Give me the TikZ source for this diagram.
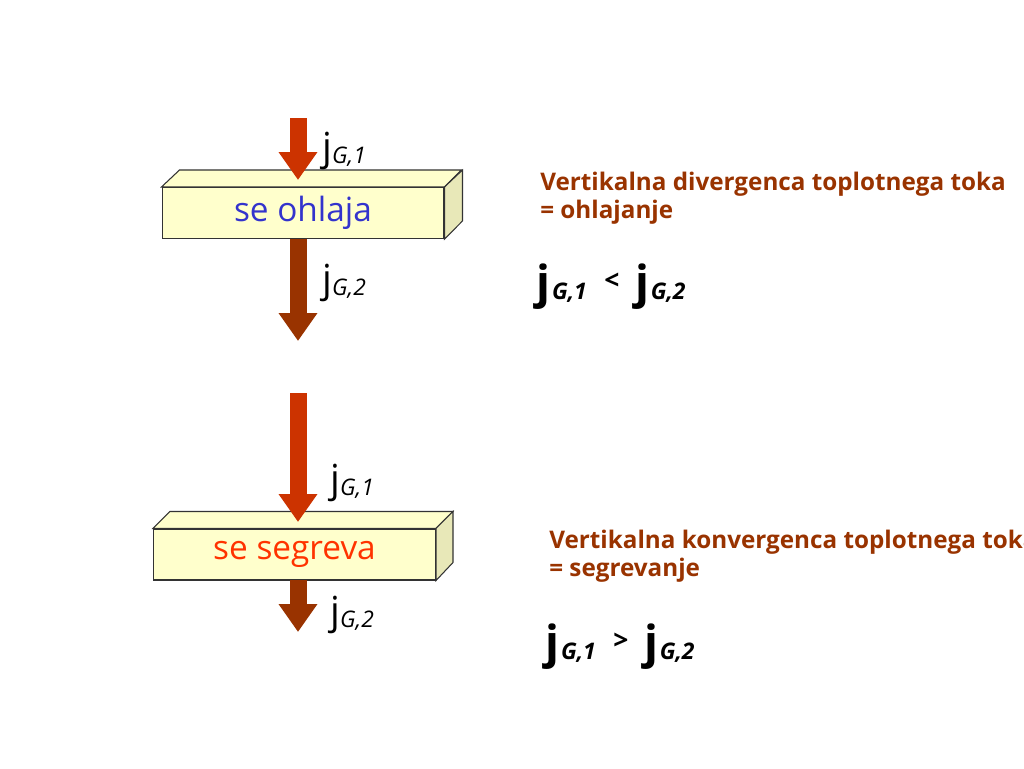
\documentclass[tikz,border=0pt]{standalone}
\usepackage{fontspec}
\setmainfont{Open Sans}
\usetikzlibrary{arrows.meta}
\definecolor{slabfront}{RGB}{255,255,204}
\definecolor{slabside}{RGB}{232,232,184}
\definecolor{fluxin}{RGB}{204,51,0}
\definecolor{fluxout}{RGB}{153,51,0}
\definecolor{notebrown}{RGB}{153,51,0}
\definecolor{coolblue}{RGB}{51,51,204}
\definecolor{warmred}{RGB}{255,51,0}
\newcommand{\fluxlabel}[1]{{\fontsize{22}{22}\selectfont j}\raisebox{-2pt}{\fontsize{13}{13}\selectfont\itshape G,#1}}
\newcommand{\relflux}[1]{{\fontsize{26}{26}\selectfont j}\hspace{1pt}\raisebox{-1pt}{\fontsize{13}{13}\selectfont\itshape G,#1}}
\tikzset{
  slab/.style={draw=black!80, fill=slabfront, line width=0.6pt, minimum width=5.64cm, minimum height=1.02cm, inner sep=0pt, font=\fontsize{19}{19}\selectfont},
  slabface/.style={draw=black!80, line width=0.6pt},
  flux/.style={line width=0.34cm, -{Triangle[width=0.74cm,length=0.56cm]}},
  lbl/.style={anchor=base west, inner sep=0pt},
  note/.style={anchor=north west, inner sep=0pt, align=left, text=notebrown, font=\fontsize{13.8}{15.9}\selectfont\bfseries},
}

\begin{document}
\begin{tikzpicture}[x=0.02cm,y=-0.02cm]
  \useasboundingbox (0,0) rectangle (1024,768);
  \clip (0,0) rectangle (1024,768);

  % cooling slab
  \node[slab, text=coolblue] (cool) at (303,213) {\raisebox{-3pt}{se ohlaja}};
  \filldraw[slabface, fill=slabfront] (cool.north west) -- ++(18,-17) -- ++(282,0) -- (cool.north east) -- cycle;
  \filldraw[slabface, fill=slabside] (cool.north east) -- ++(18,-17) -- ++(0,51) -- (cool.south east) -- cycle;
  \coordinate (cool-in) at (298,118);
  \coordinate (cool-tip) at (298,180);
  \coordinate (cool-out) at (298,239);
  \coordinate (cool-end) at (298,341);
  \draw[flux, fluxin] (cool-in) -- (cool-tip);
  \draw[flux, fluxout] (cool-out) -- (cool-end);
  \node[lbl] (cool-j1) at (322,160) {\fluxlabel{1}};
  \node[lbl] (cool-j2) at (322,292) {\fluxlabel{2}};
  \node[note] (cool-note) at (540,172) {Vertikalna divergenca toplotnega toka\\= ohlajanje};
  \node[lbl] (cool-rel) at (536,298) {\bfseries\relflux{1}\hspace{10pt}\raisebox{5pt}{\fontsize{15}{15}\selectfont <}\hspace{9pt}\relflux{2}};

  % warming slab
  \node[slab, text=warmred] (warm) at (294.5,554.5) {\raisebox{-3pt}{se segreva}};
  \filldraw[slabface, fill=slabfront] (warm.north west) -- ++(17,-17) -- ++(283,0) -- (warm.north east) -- cycle;
  \filldraw[slabface, fill=slabside] (warm.north east) -- ++(17,-17) -- ++(0,51) -- (warm.south east) -- cycle;
  \coordinate (warm-in) at (298,393);
  \coordinate (warm-tip) at (298,522);
  \coordinate (warm-out) at (298,580);
  \coordinate (warm-end) at (298,632);
  \draw[flux, fluxin] (warm-in) -- (warm-tip);
  \draw[flux, fluxout] (warm-out) -- (warm-end);
  \node[lbl] (warm-j1) at (330,492) {\fluxlabel{1}};
  \node[lbl] (warm-j2) at (330,624) {\fluxlabel{2}};
  \node[note] (warm-note) at (549,530) {Vertikalna konvergenca toplotnega toka\\= segrevanje};
  \node[lbl] (warm-rel) at (545,658) {\bfseries\relflux{1}\hspace{10pt}\raisebox{5pt}{\fontsize{15}{15}\selectfont >}\hspace{9pt}\relflux{2}};
\end{tikzpicture}
\end{document}
